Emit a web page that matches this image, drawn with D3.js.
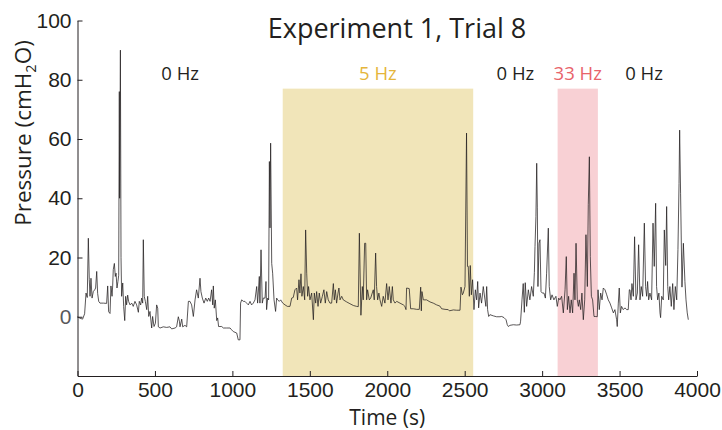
<!DOCTYPE html>
<html><head><meta charset="utf-8">
<script src="https://cdn.jsdelivr.net/npm/d3@7"></script>
<style>
html,body{margin:0;padding:0;background:#fff;}
svg{display:block;font-family:"Open Sans","Noto Sans",sans-serif;}
</style></head>
<body><svg id="chart" width="722" height="430"></svg>
<script>
const times = [0,16,33,46,55,63,70,76,81,87,94,102,111,117,124,130,137,145,167,188,195,201,210,216,223,227,231,238,244,249,255,261,266,270,272,277,281,285,292,298,305,311,317,324,330,339,350,360,371,382,393,399,408,414,421,425,431,438,447,453,460,468,479,485,494,503,511,518,522,533,554,576,597,608,630,640,651,658,662,673,679,694,705,716,726,737,748,759,769,780,791,797,806,817,828,838,847,856,866,873,877,883,890,899,905,911,920,931,942,963,985,995,1006,1028,1038,1049,1053,1060,1071,1081,1092,1103,1114,1124,1135,1146,1157,1163,1174,1178,1185,1193,1200,1211,1217,1221,1228,1234,1239,1243,1247,1254,1260,1269,1279,1286,1292,1303,1312,1325,1340,1355,1372,1383,1393,1404,1415,1421,1430,1436,1443,1449,1458,1467,1473,1480,1486,1492,1501,1512,1523,1529,1538,1544,1553,1561,1570,1581,1591,1600,1609,1619,1630,1641,1652,1658,1665,1673,1682,1688,1695,1706,1716,1738,1759,1781,1802,1813,1820,1830,1839,1845,1854,1861,1867,1873,1884,1893,1903,1910,1916,1925,1931,1938,1946,1953,1964,1974,1985,1996,2005,2013,2024,2033,2039,2050,2061,2082,2104,2114,2121,2125,2142,2151,2168,2190,2207,2216,2220,2224,2233,2254,2276,2297,2319,2340,2351,2373,2394,2401,2427,2448,2470,2476,2485,2491,2502,2512,2518,2523,2530,2536,2543,2551,2560,2569,2577,2584,2590,2599,2609,2620,2631,2637,2642,2648,2655,2663,2685,2706,2728,2739,2754,2767,2775,2782,2792,2814,2835,2857,2861,2870,2878,2885,2891,2900,2911,2921,2932,2943,2950,2954,2960,2965,2969,2973,2980,2986,2993,3001,3012,3021,3029,3040,3046,3055,3064,3076,3089,3098,3107,3115,3126,3137,3148,3156,3163,3171,3180,3188,3197,3206,3212,3219,3227,3234,3240,3249,3257,3266,3275,3283,3292,3298,3305,3311,3318,3326,3335,3343,3356,3361,3369,3378,3387,3395,3406,3417,3427,3438,3449,3460,3470,3481,3485,3492,3498,3505,3513,3524,3535,3546,3556,3563,3567,3574,3580,3589,3597,3606,3615,3623,3632,3640,3649,3660,3668,3675,3681,3688,3696,3707,3716,3724,3733,3739,3746,3754,3761,3765,3772,3782,3789,3798,3804,3811,3817,3825,3834,3843,3851,3860,3869,3877,3884,3888,3894,3903,3912,3922,3929,3937,3944];
const pressure = [0,-0.5,-0.8,1,8,6.5,26.5,12.5,6.9,13,6.3,8.5,9.1,9.7,15.3,7.9,5.2,4.6,4.6,4.5,10.4,1.7,1.1,10.4,6.9,10.4,15.9,18,13.6,14.7,9.7,11.9,14,76,40,90,20,6.9,11.4,3.5,-1.3,6.9,4,7.3,5.2,4,4.6,3.5,5.2,4,1.5,5.2,4,6.3,4.6,26,6.9,5.2,2.4,6.9,0.1,1.8,-3.8,0.1,-3.3,-2.2,4,2.9,-3.4,-3.8,-3.4,-3.6,-3.4,-4.1,-3.8,-3.4,0,-1.5,-3.4,-0.8,-3.4,-2.9,-3.4,5.2,5.2,4,0.1,5.7,9.1,6.3,13,8.5,6.3,4.6,6.3,5.2,6.3,5.2,9.1,4,10.4,2.9,5.7,-1.3,-0.4,-3.3,-3.3,-3.3,-3.8,-3.8,-3.8,-4.4,-5,-5.5,-7.8,-7.8,4.6,5.7,5.2,5.2,4.6,4,5.2,4,4.6,5.7,10.2,4.6,13.6,4.6,22.6,4.6,6.3,6.3,11.9,2.4,6.3,5.7,52.4,30,58.6,18,14.7,5.7,1.8,6.3,5.7,5.2,5.7,4.6,4,3.5,3.5,6.3,6.5,9.1,9.7,5.7,12.5,8,14.5,6.9,10.2,5.7,29.3,14.7,6.9,10.2,5.7,8,-1,8,4.6,8.5,3.5,8,4.6,6.9,9.1,4.6,8.5,5.7,4.6,4.6,11.2,5.7,9.1,4.6,8,9.7,5.7,6.9,5.7,5,4.4,3.8,3.5,3.4,28.2,0.5,10.2,5.7,24.8,24.8,5.7,9.1,5.7,6.3,8,9.1,5.7,21.5,10.2,5.7,8,5.7,3.5,6.9,4.6,11.2,5.7,10.2,4.6,10.2,5.7,4.6,5.2,4.6,4,3.5,2.4,9.7,9.5,2.7,2.7,2.5,2.5,10,2,8.5,5.7,5.7,5,4.6,4,3.6,2.7,2.5,2.4,2,2.3,2.2,2.2,10,7.4,8,10.2,62,17,17,6.9,17.3,7.4,12.5,2.4,9.1,5.7,11.9,3,8,4.6,10.2,5.7,3.5,10.2,2.4,0.1,0.7,0.3,0,0,0.1,-0.3,-1,-2.7,-3.3,-2.9,-2.7,-2.8,-2.7,-1.5,5.7,11.2,1.5,11.5,3.5,9.1,5.7,10.2,6.9,15,23.7,33.8,51.8,37,10.2,24.8,26,8.5,8,8,6.3,14.7,29.9,10.2,5.7,7.4,5.7,6.9,3.5,6.3,5.7,6.9,1.3,9.1,20.3,2.4,6.9,1.3,5.7,1.3,14.7,5.7,24.8,5.7,3.5,5.7,2.4,8,-1,5.7,27.7,10.2,37.8,54,20.3,6.9,5.7,0.1,0.1,0,9.1,2.4,8,5.7,9.7,9.1,7.4,5.7,4.6,3,1.3,2.4,-1,-3.3,4.6,9.7,1.3,3.5,2.4,3,2.4,2.4,9.1,9.1,5.7,11.2,6.9,27,5.7,8,24.3,5.7,10.2,6.9,31.6,10.2,6.9,11.9,5.7,8,5.7,31.6,17,38.3,10.2,5.7,8,1.3,-0.3,6.9,5.7,29.3,17.3,37.2,10.2,5.7,10.2,3.5,11.2,2.4,10.2,5.7,22.7,45,63,41.7,10,24.8,11.9,5.7,1.3,-1];

const xTicks = [0,500,1000,1500,2000,2500,3000,3500,4000];
const yTicks = [0,20,40,60,80,100];
const segStart = [0,1325,2555,3100,3360];
const segEnd = [1325,2555,3100,3360,3956];
const segLabels = ["0 Hz","5 Hz","0 Hz","33 Hz","0 Hz"];
const segColors = ["#231f20","#e5b53a","#231f20","#e8636a","#231f20"];
const shadeStart = [1325,3100];
const shadeEnd = [2555,3360];
const shadeTop = [77,77];
const shadeFill = ["#f1e5b9","#f8d0d4"];
const titleText = "Experiment 1, Trial 8";

const svg = d3.select("#chart");
const x = d3.scaleLinear().domain([0,4000]).range([77.5,697]);
const y = d3.scaleLinear().domain([-20,100]).range([376,20.5]);

// shaded stimulation regions
svg.append("g").selectAll("rect").data(shadeStart).join("rect")
  .attr("x",(d,i)=>x(d)).attr("width",(d,i)=>x(shadeEnd[i])-x(d))
  .attr("y",(d,i)=>y(shadeTop[i])).attr("height",(d,i)=>y(-20)-y(shadeTop[i]))
  .attr("fill",(d,i)=>shadeFill[i]);

// line
const line = d3.line().x(i=>x(times[i])).y(i=>y(pressure[i]));
svg.append("path").attr("d",line(d3.range(times.length)))
  .attr("fill","none").attr("stroke","#231f20").attr("stroke-width",0.75)
  .attr("stroke-linejoin","round");

// axes
const gx = svg.append("g").attr("transform",`translate(0,${y(-20)})`)
  .call(d3.axisBottom(x).tickValues(xTicks).tickSizeInner(-5).tickSizeOuter(0).tickPadding(6).tickFormat(d3.format("d")));
const gy = svg.append("g").attr("transform",`translate(${x(0)},0)`)
  .call(d3.axisLeft(y).tickValues(yTicks).tickSizeInner(-5).tickSizeOuter(0).tickPadding(6).tickFormat(d3.format("d")));
[gx,gy].forEach(g=>{
  g.select(".domain").attr("stroke","#231f20").attr("stroke-width",1);
  g.selectAll(".tick line").attr("stroke","#231f20").attr("stroke-width",1);
  g.selectAll(".tick text").attr("font-size",21).attr("fill","#231f20").attr("font-family",null);
});
gy.selectAll(".tick text").filter(d=>d===0).attr("fill","#58595b");

// segment labels
svg.append("g").selectAll("text").data(segLabels).join("text")
  .attr("x",(d,i)=>x((segStart[i]+segEnd[i])/2)).attr("y",80)
  .attr("text-anchor","middle").attr("font-size",18.5)
  .attr("fill",(d,i)=>segColors[i]).text(d=>d);

// title
svg.append("text").attr("x",397).attr("y",38).attr("text-anchor","middle")
  .attr("font-size",27).attr("fill","#231f20").text(titleText);

// axis labels
svg.append("text").attr("x",(x(0)+x(4000))/2).attr("y",425).attr("text-anchor","middle")
  .attr("font-size",21).attr("fill","#231f20").text("Time (s)");
const yl = svg.append("text").attr("transform","translate(31,133) rotate(-90)")
  .attr("text-anchor","middle").attr("font-size",22.5).attr("fill","#231f20");
yl.append("tspan").text("Pressure (cmH");
yl.append("tspan").attr("font-size",14.5).attr("dy",4.5).text("2");
yl.append("tspan").attr("dy",-4.5).text("O)");
</script></body></html>
